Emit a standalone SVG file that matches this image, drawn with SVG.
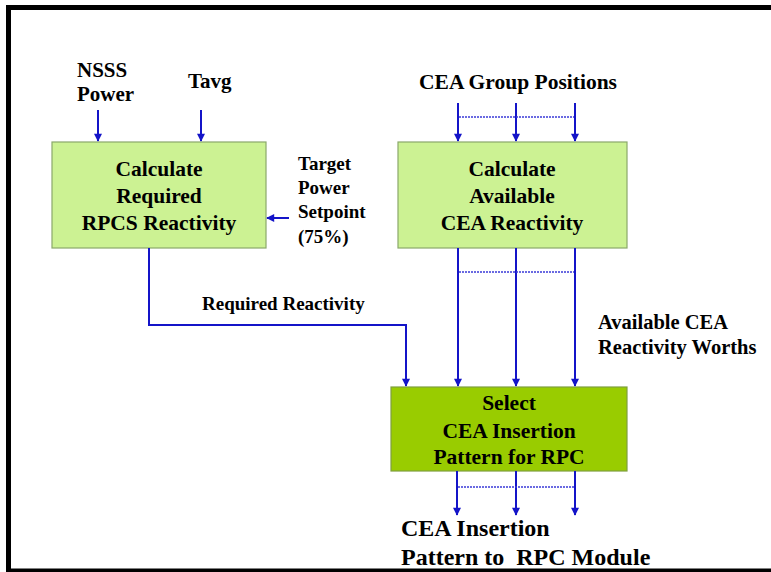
<svg xmlns="http://www.w3.org/2000/svg" width="771" height="572" viewBox="0 0 771 572">
<style>
.t{font-family:'Liberation Serif','DejaVu Serif',serif;font-weight:700;fill:#000}
.c{text-anchor:middle}
.box1{fill:#ccf293;stroke:#8aa86a;stroke-width:1.2}
.box3{fill:#99cc00;stroke:#7f9f3f;stroke-width:1.2}
.ln{fill:none;stroke:#1414c8;stroke-width:2}
.dot{fill:none;stroke:#3a3ad8;stroke-width:1.6;stroke-dasharray:2 1}
</style>
<defs>
<marker id="ah" viewBox="0 0 10 10" refX="9" refY="5" markerWidth="4.5" markerHeight="4" orient="auto" markerUnits="strokeWidth">
<path d="M0,0 L10,5 L0,10 z" fill="#1414c8"/>
</marker>
</defs>
<rect x="0" y="0" width="771" height="572" fill="#ffffff"/>
<rect x="8.5" y="7.5" width="770" height="563.5" fill="none" stroke="#000" stroke-width="5"/>

<g id="inputs" class="t" font-family="Liberation Serif, DejaVu Serif, serif" font-weight="bold">
<text x="77" y="77" font-size="21">NSSS</text>
<text x="77" y="101" font-size="21">Power</text>
<text x="188" y="88" font-size="21">Tavg</text>
<text x="518" y="89" font-size="21.5" class="c">CEA Group Positions</text>
</g>

<g id="target" class="t" font-family="Liberation Serif, DejaVu Serif, serif" font-weight="bold">
<text x="298" y="170" font-size="19">Target</text>
<text x="298" y="194" font-size="19">Power</text>
<text x="298" y="218" font-size="19">Setpoint</text>
<text x="298" y="243" font-size="19">(75%)</text>
</g>

<g id="calcRequired" class="t" font-family="Liberation Serif, DejaVu Serif, serif" font-weight="bold">
<rect class="box1" x="52" y="142" width="214" height="106"/>
<text x="159" y="176" font-size="21.5" text-anchor="middle">Calculate</text>
<text x="159" y="203" font-size="21.5" text-anchor="middle">Required</text>
<text x="159" y="230" font-size="21.5" text-anchor="middle">RPCS Reactivity</text>
</g>

<g id="calcAvailable" class="t" font-family="Liberation Serif, DejaVu Serif, serif" font-weight="bold">
<rect class="box1" x="398" y="142" width="229" height="106"/>
<text x="512" y="176" font-size="21.5" text-anchor="middle">Calculate</text>
<text x="512" y="203" font-size="21.5" text-anchor="middle">Available</text>
<text x="512" y="230" font-size="21.5" text-anchor="middle">CEA Reactivity</text>
</g>

<g id="selectPattern" class="t" font-family="Liberation Serif, DejaVu Serif, serif" font-weight="bold">
<rect class="box3" x="391" y="387" width="236" height="84"/>
<text x="509" y="410" font-size="21.5" text-anchor="middle">Select</text>
<text x="509" y="438" font-size="21.5" text-anchor="middle">CEA Insertion</text>
<text x="509" y="464" font-size="21.5" text-anchor="middle">Pattern for RPC</text>
</g>

<g id="labels" class="t" font-family="Liberation Serif, DejaVu Serif, serif" font-weight="bold">
<text x="202" y="310" font-size="19">Required Reactivity</text>
<text x="598" y="329" font-size="20.5">Available CEA</text>
<text x="598" y="354" font-size="20.5">Reactivity Worths</text>
<text x="401" y="536" font-size="24">CEA Insertion</text>
<text x="401" y="565" font-size="24" xml:space="preserve">Pattern to  RPC Module</text>
</g>

<g id="connectors">
<line class="ln" x1="98" y1="110" x2="98" y2="141" marker-end="url(#ah)"/>
<line class="ln" x1="201" y1="110" x2="201" y2="141" marker-end="url(#ah)"/>
<line class="ln" x1="458" y1="103" x2="458" y2="141" marker-end="url(#ah)"/>
<line class="ln" x1="516" y1="103" x2="516" y2="141" marker-end="url(#ah)"/>
<line class="ln" x1="575" y1="103" x2="575" y2="141" marker-end="url(#ah)"/>
<line class="dot" x1="459" y1="117" x2="574" y2="117"/>
<line class="ln" x1="289" y1="218" x2="267" y2="218" marker-end="url(#ah)"/>
<polyline class="ln" points="149,248 149,325 406,325 406,386" marker-end="url(#ah)"/>
<line class="ln" x1="458" y1="248" x2="458" y2="386" marker-end="url(#ah)"/>
<line class="ln" x1="516" y1="248" x2="516" y2="386" marker-end="url(#ah)"/>
<line class="ln" x1="575" y1="248" x2="575" y2="386" marker-end="url(#ah)"/>
<line class="dot" x1="459" y1="272" x2="574" y2="272"/>
<line class="ln" x1="457" y1="471" x2="457" y2="515" marker-end="url(#ah)"/>
<line class="ln" x1="516" y1="471" x2="516" y2="515" marker-end="url(#ah)"/>
<line class="ln" x1="575" y1="471" x2="575" y2="515" marker-end="url(#ah)"/>
<line class="dot" x1="458" y1="487" x2="574" y2="487"/>
</g>
</svg>
